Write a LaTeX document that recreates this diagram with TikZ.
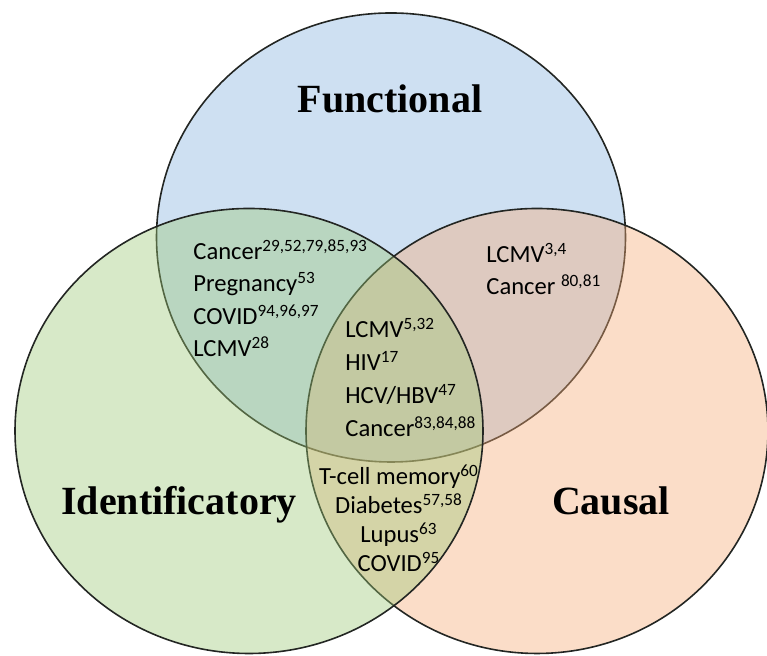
\documentclass[tikz,border=0pt]{standalone}
\usepackage{fontspec}
\setmainfont{Liberation Serif}
\newfontfamily\labelfont{Carlito}
\definecolor{funcblue}{RGB}{133,178,223}
\definecolor{causpeach}{RGB}{245,170,117}
\definecolor{identgreen}{RGB}{155,200,117}
\definecolor{rim}{RGB}{35,38,35}

\begin{document}
\begin{tikzpicture}[x=0.5pt,y=0.5pt,
    ring/.style={draw=rim,line width=0.8pt,fill opacity=0.4},
    set/.style={font=\bfseries\fontsize{20}{24}\selectfont,inner sep=0pt,anchor=base},
    item/.style={font=\labelfont\fontsize{12.3}{15}\selectfont,inner sep=0pt,anchor=base west}]
   \useasboundingbox (0,0) rectangle (767,656);
   % the three sets
   \draw[ring,fill=funcblue]   (391,418.5) ellipse [x radius=234.5,y radius=224.5];
   \draw[ring,fill=causpeach]  (537,225)   ellipse [x radius=231,y radius=222.5];
   \draw[ring,fill=identgreen] (249,225)   ellipse [x radius=234,y radius=222.5];

   \node[set] (F) at (390,543) {Functional};
   \node[set] (I) at (179,141) {Identificatory};
   \node[set] (C) at (611,141) {Causal};

   % functional + identificatory
   \node[item] (fi1) at (193,396) {Cancer\textsuperscript{29,52,79,85,93}};
   \node[item] (fi2) at (193,364) {Pregnancy\textsuperscript{53}};
   \node[item] (fi3) at (193,331) {COVID\textsuperscript{94,96,97}};
   \node[item] (fi4) at (193,299) {LCMV\textsuperscript{28}};

   % functional + causal
   \node[item] (fc1) at (486,393) {LCMV\textsuperscript{3,4}};
   \node[item] (fc2) at (486,361) {Cancer \textsuperscript{80,81}};

   % all three
   \node[item] (fic1) at (345,318) {LCMV\textsuperscript{5,32}};
   \node[item] (fic2) at (345,285) {HIV\textsuperscript{17}};
   \node[item] (fic3) at (345,252) {HCV/HBV\textsuperscript{47}};
   \node[item] (fic4) at (345,219) {Cancer\textsuperscript{83,84,88}};

   % identificatory + causal
   \node[item,anchor=base] (ic1) at (399,171) {T-cell memory\textsuperscript{60}};
   \node[item,anchor=base] (ic2) at (399,142) {Diabetes\textsuperscript{57,58}};
   \node[item,anchor=base] (ic3) at (399,113) {Lupus\textsuperscript{63}};
   \node[item,anchor=base] (ic4) at (399,84)  {COVID\textsuperscript{95}};
\end{tikzpicture}
\end{document}
